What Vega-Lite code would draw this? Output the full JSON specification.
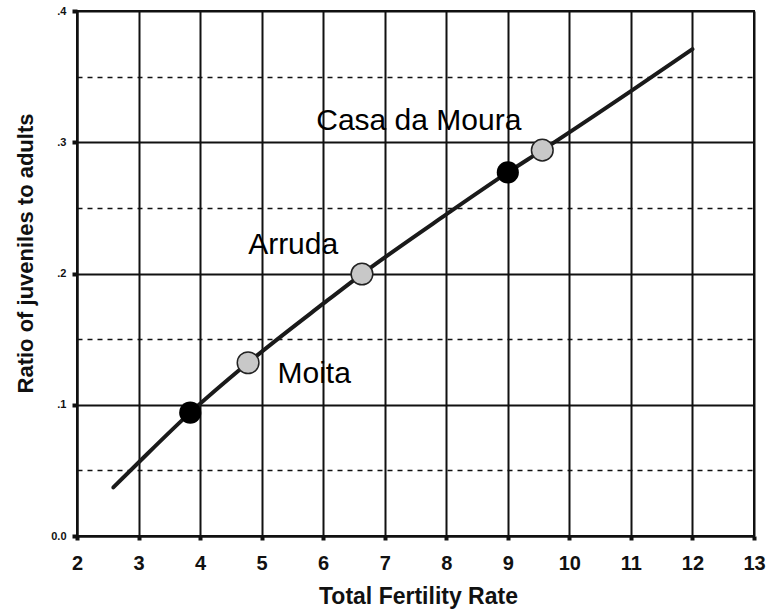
{
  "$schema": "https://vega.github.io/schema/vega-lite/v6.json",
  "width": 677,
  "height": 525,
  "autosize": {"type": "none"},
  "padding": {"left": 77, "top": 11, "right": 18, "bottom": 74},
  "background": "white",
  "config": {
    "view": {"stroke": "#111111", "strokeWidth": 2},
    "font": "Liberation Sans"
  },
  "datasets": {
    "curve": [
      {"tfr": 2.59, "ratio": 0.037},
      {"tfr": 3.0, "ratio": 0.056},
      {"tfr": 3.84, "ratio": 0.094},
      {"tfr": 4.78, "ratio": 0.132},
      {"tfr": 6.0, "ratio": 0.177},
      {"tfr": 6.63, "ratio": 0.1996},
      {"tfr": 8.0, "ratio": 0.245},
      {"tfr": 9.0, "ratio": 0.277},
      {"tfr": 9.56, "ratio": 0.294},
      {"tfr": 11.0, "ratio": 0.339},
      {"tfr": 12.0, "ratio": 0.371}
    ],
    "sites": [
      {"site": "Moita", "tfr": 4.78, "ratio": 0.132},
      {"site": "Arruda", "tfr": 6.63, "ratio": 0.1996},
      {"site": "Casa da Moura", "tfr": 9.56, "ratio": 0.294}
    ],
    "reference": [
      {"tfr": 3.84, "ratio": 0.094},
      {"tfr": 9.0, "ratio": 0.277}
    ],
    "labels": [
      {"name": "Casa da Moura", "tfr": 7.553, "ratio": 0.3093},
      {"name": "Arruda", "tfr": 5.512, "ratio": 0.2149},
      {"name": "Moita", "tfr": 5.854, "ratio": 0.1163}
    ]
  },
  "encoding": {
    "x": {
      "field": "tfr",
      "type": "quantitative",
      "scale": {"domain": [2, 13], "nice": false, "zero": false},
      "axis": {
        "values": [2, 3, 4, 5, 6, 7, 8, 9, 10, 11, 12, 13],
        "title": "Total Fertility Rate",
        "titleFontSize": 23,
        "titleFontWeight": "bold",
        "titleColor": "#111111",
        "titleBaseline": "alphabetic",
        "titleY": 67,
        "titleX": 341,
        "labelFontSize": 20,
        "labelFontWeight": "bold",
        "labelColor": "#111111",
        "labelPadding": 13,
        "labelFlush": false,
        "labelOverlap": false,
        "tickSize": 4,
        "tickWidth": 4,
        "tickColor": "#111111",
        "domainColor": "#111111",
        "domainWidth": 2,
        "grid": true,
        "gridColor": "#111111",
        "gridWidth": 2,
        "gridOpacity": 1
      }
    },
    "y": {
      "field": "ratio",
      "type": "quantitative",
      "scale": {"domain": [0, 0.4], "nice": false, "zero": true},
      "axis": {
        "values": [0, 0.05, 0.1, 0.15, 0.2, 0.25, 0.3, 0.35, 0.4],
        "title": "Ratio of juveniles to adults",
        "titleFontSize": 22,
        "titleFontWeight": "bold",
        "titleColor": "#111111",
        "titleBaseline": "alphabetic",
        "titleAlign": "center",
        "titleAngle": -90,
        "titleX": -45,
        "titleY": 242,
        "labelExpr": "abs(datum.value*10 - round(datum.value*10)) < 0.01 ? (datum.value == 0 ? '0.0' : replace(format(datum.value, '.1f'), '0.', '.')) : ''",
        "labelFontSize": 11,
        "labelFontWeight": "bold",
        "labelColor": "#111111",
        "labelPadding": 6,
        "labelFlush": false,
        "tickSize": 5,
        "tickWidth": 4,
        "tickColor": "#111111",
        "tickOpacity": {"condition": {"test": "abs(datum.value*10 - round(datum.value*10)) < 0.01", "value": 1}, "value": 0},
        "domainColor": "#111111",
        "domainWidth": 2,
        "grid": true,
        "gridColor": "#111111",
        "gridWidth": {"condition": {"test": "abs(datum.value*10 - round(datum.value*10)) < 0.01", "value": 2}, "value": 1.5},
        "gridOpacity": 1,
        "gridDash": {"condition": {"test": "abs(datum.value*10 - round(datum.value*10)) < 0.01", "value": []}, "value": [5, 5]}
      }
    }
  },
  "layer": [
    {
      "data": {"name": "curve"},
      "mark": {"type": "line", "interpolate": "monotone", "color": "#1a1a1a", "strokeWidth": 4, "strokeCap": "round"}
    },
    {
      "data": {"name": "reference"},
      "mark": {"type": "point", "shape": "circle", "filled": true, "size": 490, "color": "#000000", "opacity": 1}
    },
    {
      "data": {"name": "sites"},
      "mark": {"type": "point", "shape": "circle", "filled": true, "size": 470, "fill": "#c8c8c8", "stroke": "#222222", "strokeWidth": 1.5, "opacity": 1, "fillOpacity": 1}
    },
    {
      "data": {"name": "labels"},
      "mark": {"type": "text", "font": "Liberation Sans", "fontSize": 30, "color": "#000000", "align": "center", "baseline": "alphabetic"},
      "encoding": {"text": {"field": "name", "type": "nominal"}}
    }
  ]
}
